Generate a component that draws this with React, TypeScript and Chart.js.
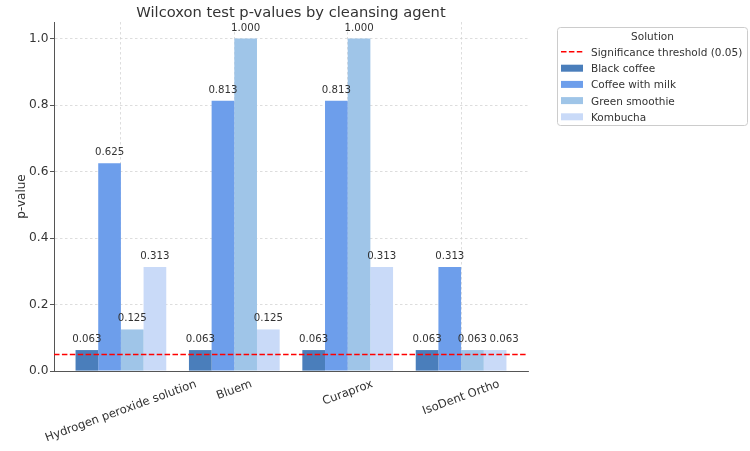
import React, { useEffect, useRef } from 'react';
import { Chart, registerables } from 'chart.js';

Chart.register(...registerables);

const categories = ['Hydrogen peroxide solution', 'Bluem', 'Curaprox', 'IsoDent Ortho'];
const seriesNames = ['Black coffee', 'Coffee with milk', 'Green smoothie', 'Kombucha'];
const blackCoffee = [0.063, 0.063, 0.063, 0.063];
const coffeeWithMilk = [0.625, 0.813, 0.813, 0.313];
const greenSmoothie = [0.125, 1.0, 1.0, 0.063];
const kombucha = [0.313, 0.125, 0.313, 0.063];
const seriesColors = ['#4a7ebb', '#6d9eeb', '#9fc5e8', '#c9daf8'];
const threshold = 0.05;
const thresholdLabel = 'Significance threshold (0.05)';
const yTicks = [0, 0.2, 0.4, 0.6, 0.8, 1.0];
const chartTitle = 'Wilcoxon test p-values by cleansing agent';
const yTitle = 'p-value';
const legendTitle = 'Solution';

const FONT = '"DejaVu Sans", sans-serif';
const TEXT = '#333333';
const X_MIN = -0.59;
const X_MAX = 3.59;

const seriesValues = [blackCoffee, coffeeWithMilk, greenSmoothie, kombucha];

const customPlugin = {
  id: 'customDraw',
  afterDatasetsDraw(chart: any) {
    const ctx = chart.ctx;
    ctx.save();
    ctx.font = `10.2px ${FONT}`;
    ctx.fillStyle = TEXT;
    ctx.textAlign = 'left';
    ctx.textBaseline = 'alphabetic';
    const barSets = chart.data.datasets
      .map((ds: any, i: number) => ({ ds, i }))
      .filter((o: any) => o.ds.type !== 'line');
    categories.forEach((_, j) => {
      let prev: { right: number; y: number } | null = null;
      barSets.forEach(({ ds, i }: any) => {
        const el = chart.getDatasetMeta(i).data[j];
        const txt = ds.data[j].y.toFixed(3);
        const w = ctx.measureText(txt).width;
        let left = el.x - w / 2;
        const y = el.y - 8;
        if (prev && Math.abs(prev.y - y) < 11 && left < prev.right + 2.5) {
          left = prev.right + 2.5;
        }
        ctx.fillText(txt, left, y);
        prev = { right: left + w, y };
      });
    });
    ctx.restore();
  },
  afterDraw(chart: any) {
    const ctx = chart.ctx;
    const area = chart.chartArea;
    const xScale = chart.scales.x;
    ctx.save();
    // Title
    ctx.font = `14.7px ${FONT}`;
    ctx.fillStyle = TEXT;
    ctx.textAlign = 'center';
    ctx.textBaseline = 'alphabetic';
    ctx.fillText(chartTitle, (area.left + area.right) / 2, 16.5);

    // X tick labels, rotated 20deg, centered on tick
    const ang = (20 * Math.PI) / 180;
    ctx.font = `11.6px ${FONT}`;
    ctx.textBaseline = 'middle';
    categories.forEach((c, i) => {
      const w = ctx.measureText(c).width;
      const h = 13.5;
      const H = w * Math.sin(ang) + h * Math.cos(ang);
      const cx = xScale.getPixelForValue(i);
      const cy = area.bottom + 6.5 + H / 2;
      ctx.save();
      ctx.translate(cx, cy);
      ctx.rotate(-ang);
      ctx.fillText(c, 0, 0);
      ctx.restore();
    });

    // Legend
    const bx = 557.5, by = 27.5, bw = 190, bh = 98;
    ctx.beginPath();
    const r = 3;
    ctx.moveTo(bx + r, by);
    ctx.lineTo(bx + bw - r, by);
    ctx.arcTo(bx + bw, by, bx + bw, by + r, r);
    ctx.lineTo(bx + bw, by + bh - r);
    ctx.arcTo(bx + bw, by + bh, bx + bw - r, by + bh, r);
    ctx.lineTo(bx + r, by + bh);
    ctx.arcTo(bx, by + bh, bx, by + bh - r, r);
    ctx.lineTo(bx, by + r);
    ctx.arcTo(bx, by, bx + r, by, r);
    ctx.closePath();
    ctx.fillStyle = 'rgba(255,255,255,0.8)';
    ctx.fill();
    ctx.strokeStyle = '#cccccc';
    ctx.lineWidth = 1;
    ctx.stroke();

    ctx.font = `10.5px ${FONT}`;
    ctx.fillStyle = TEXT;
    ctx.textAlign = 'center';
    ctx.textBaseline = 'alphabetic';
    ctx.fillText(legendTitle, bx + bw / 2, 40);

    ctx.textAlign = 'left';
    const rowBase = [56, 72.2, 88.4, 104.6, 120.8];
    ctx.save();
    ctx.strokeStyle = 'red';
    ctx.lineWidth = 1.5;
    ctx.setLineDash([5.5, 2.4]);
    ctx.beginPath();
    ctx.moveTo(561, rowBase[0] - 4.3);
    ctx.lineTo(583, rowBase[0] - 4.3);
    ctx.stroke();
    ctx.restore();
    ctx.fillStyle = TEXT;
    ctx.fillText(thresholdLabel, 591, rowBase[0]);
    seriesNames.forEach((n, i) => {
      const yb = rowBase[i + 1];
      ctx.fillStyle = seriesColors[i];
      ctx.fillRect(561, yb - 7.5, 22, 7);
      ctx.fillStyle = TEXT;
      ctx.fillText(n, 591, yb);
    });
    ctx.restore();
  },
};

export default function App() {
  const ref = useRef<HTMLCanvasElement | null>(null);
  useEffect(() => {
    document.body.style.margin = '0';
    const canvas = ref.current;
    if (!canvas) return;
    const datasets: any[] = [
      {
        type: 'line',
        label: thresholdLabel,
        data: [
          { x: X_MIN, y: threshold },
          { x: X_MAX, y: threshold },
        ],
        borderColor: 'red',
        borderWidth: 1.5,
        borderDash: [5.5, 2.4],
        pointRadius: 0,
        fill: false,
        order: -1,
      },
      ...seriesNames.map((name, i) => ({
        type: 'bar',
        label: name,
        data: seriesValues[i].map((v, j) => ({ x: j, y: v })),
        backgroundColor: seriesColors[i],
        borderWidth: 0,
        categoryPercentage: 0.8,
        barPercentage: 1.0,
        order: 1,
      })),
    ];
    const chart = new Chart(canvas, {
      type: 'bar',
      data: { datasets },
      options: {
        responsive: false,
        animation: false,
        devicePixelRatio: 1,
        layout: { padding: { top: 22, right: 222, left: 0, bottom: 0 } },
        plugins: {
          legend: { display: false },
          title: { display: false },
          tooltip: { enabled: false },
        },
        scales: {
          x: {
            type: 'linear',
            min: X_MIN,
            max: X_MAX,
            offset: false,
            afterBuildTicks: (scale: any) => {
              scale.ticks = categories.map((_, i) => ({ value: i }));
            },
            afterFit: (scale: any) => {
              scale.height = 80;
            },
            ticks: { display: false },
            grid: {
              display: true,
              offset: false,
              color: '#d4d4d4',
              lineWidth: 0.8,
              drawTicks: false,
            },
            border: { display: true, color: '#555555', width: 1, dash: [2.5, 2.5] },
          },
          y: {
            type: 'linear',
            min: 0,
            max: 1.05,
            afterBuildTicks: (scale: any) => {
              scale.ticks = yTicks.map((v) => ({ value: v }));
            },
            afterFit: (scale: any) => {
              scale.width = 54;
            },
            ticks: {
              color: TEXT,
              font: { family: FONT, size: 12.2 },
              padding: 1.5,
              callback: (v: any) => Number(v).toFixed(1),
            },
            grid: {
              color: '#d4d4d4',
              lineWidth: 0.8,
              drawTicks: true,
              tickLength: 4,
              tickColor: '#555555',
              tickWidth: 1,
              tickBorderDash: [],
            },
            border: { display: true, color: '#555555', width: 1, dash: [2.5, 2.5] },
            title: {
              display: true,
              text: yTitle,
              color: TEXT,
              font: { family: FONT, size: 12 },
              padding: { top: 15, bottom: 0 },
            },
          },
        },
      },
      plugins: [customPlugin],
    } as any);
    return () => chart.destroy();
  }, []);
  return <canvas ref={ref} width={750} height={451} style={{ display: 'block' }} />;
}
